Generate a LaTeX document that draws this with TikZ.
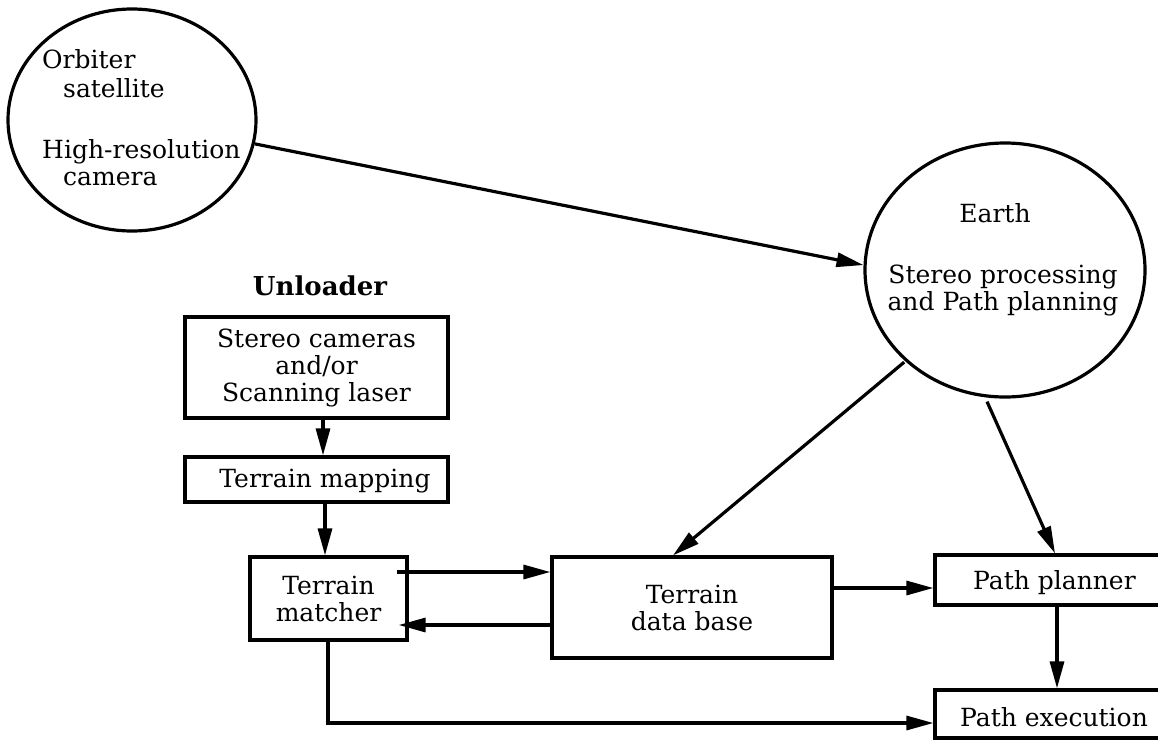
\documentclass[tikz,border=0pt]{standalone}
\usepackage{fontspec}
\setmainfont{DejaVu Serif}
\usetikzlibrary{arrows.meta,shapes.geometric,calc}
\tikzset{
  lbl/.style={font=\fontsize{25}{27}\selectfont, inner sep=0pt},
  boxnode/.style={draw, line width=3.2pt, align=center, inner sep=0pt, font=\fontsize{25}{27}\selectfont},
  circ/.style={draw, ellipse, line width=3.2pt, inner sep=0pt},
  arr/.style={line width=3.2pt, -{Triangle[length=27pt,width=14pt]}},
}
\begin{document}
\begin{tikzpicture}[x=1pt,y=-1pt]
\useasboundingbox (0,0) rectangle (1158,739);
\clip (0,0) rectangle (1158,739);
\fill[white] (0,0) rectangle (1158,739);
% circles
\node[circ, minimum width=248pt, minimum height=222pt] (orb) at (132,120) {};
\node[lbl, anchor=base west] (t1) at (42,68) {Orbiter};
\node[lbl, anchor=base west] (t2) at (63,97) {satellite};
\node[lbl, anchor=base west] (t3) at (42,158) {High-resolution};
\node[lbl, anchor=base west] (t4) at (63,185) {camera};
\node[circ, minimum width=280pt, minimum height=254pt] (earth) at (1005,270) {};
\node[lbl, anchor=base] (e1) at (995,222) {Earth};
\node[lbl, anchor=base] (e2) at (1003,283) {Stereo processing};
\node[lbl, anchor=base] (e3) at (1003,310) {and Path planning};
% unloader
\node[lbl, anchor=base, font=\fontsize{26}{28}\selectfont\bfseries] (unl) at (320,295) {Unloader};
\node[boxnode, minimum width=263pt, minimum height=101pt] (stereo) at (316.5,367.5) {Stereo cameras\\and/or\\Scanning laser};
\node[boxnode, minimum width=263pt, minimum height=45pt] (map) at (316.5,479.5) {};
\node[lbl, anchor=base] (mapt) at (325,487) {Terrain mapping};
\node[boxnode, minimum width=157pt, minimum height=83pt] (match) at (328.5,598.5) {Terrain\\matcher};
\node[boxnode, minimum width=280pt, minimum height=101pt] (db) at (692,607.5) {Terrain\\data base};
\node[boxnode, minimum width=240pt, minimum height=50pt] (plan) at (1055,580) {};
\node[lbl, anchor=base west] (plant) at (973,589) {Path planner};
\node[boxnode, minimum width=240pt, minimum height=48pt] (exec) at (1055,714) {};
\node[lbl, anchor=base west] (exect) at (960,726) {Path execution};
% connectors
\draw[arr] (orb.-11) -- (earth.178);
\draw[arr] (stereo.south -| 323,0) -- (map.north -| 323,0);
\draw[arr] (map.south -| 325,0) -- (match.north -| 325,0);
\draw[arr] ($(match.east)+(-12,-26.5)$) -- (db.west |- 0,572);
\draw[arr] (db.west |- 0,625) -- ($(match.east)+(-10,26.5)$);
\draw[arr] (db.east |- 0,588) -- (plan.west |- 0,588);
\draw[arr] (plan.south -| 1057,0) -- (exec.north -| 1057,0);
\draw[arr] (match.south -| 328,0) |- (exec.west |- 0,723);
\draw[arr] ($(earth.223)+(-2,0)$) -- (db.north -| 673,0);
\draw[arr] ($(earth.south)+(-18,3)$) -- (plan.north -| 1055,0);
\end{tikzpicture}
\end{document}
